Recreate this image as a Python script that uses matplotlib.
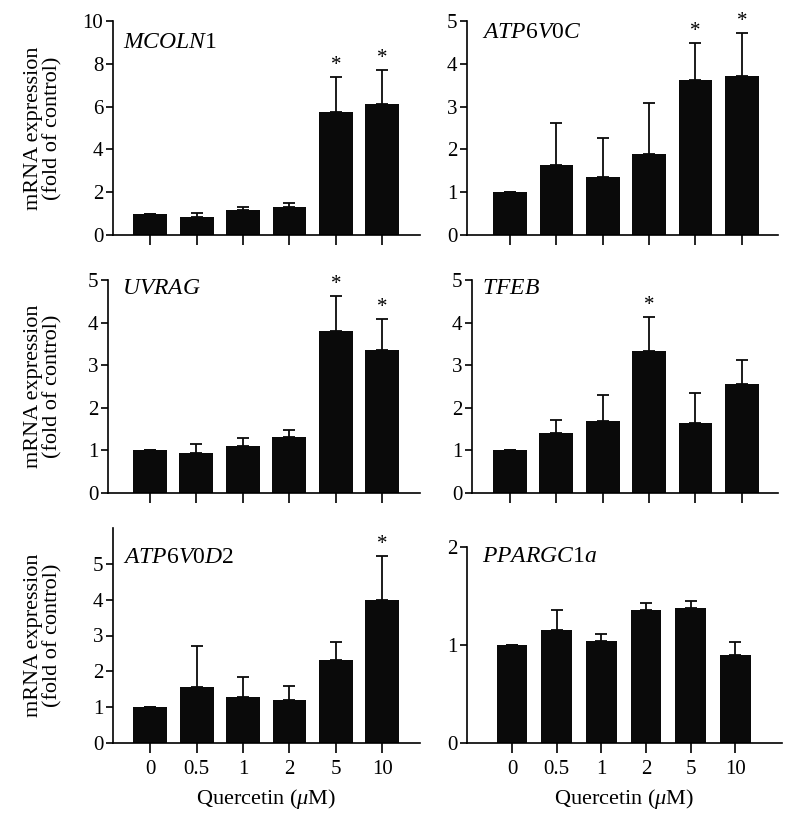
import matplotlib
matplotlib.use("Agg")
import matplotlib.pyplot as plt
import numpy as np

# =============================================================================
# Data
# =============================================================================
doses = ["0", "0.5", "1", "2", "5", "10"]

mcoln1_mean = [1.0, 0.83, 1.17, 1.29, 5.76, 6.10]
mcoln1_err = [0.0, 0.18, 0.15, 0.22, 1.61, 1.61]
mcoln1_sig = [False, False, False, False, True, True]

atp6v0c_mean = [1.0, 1.63, 1.35, 1.89, 3.62, 3.71]
atp6v0c_err = [0.0, 0.99, 0.92, 1.19, 0.86, 1.00]
atp6v0c_sig = [False, False, False, False, True, True]

uvrag_mean = [1.0, 0.93, 1.10, 1.32, 3.81, 3.36]
uvrag_err = [0.0, 0.22, 0.19, 0.16, 0.81, 0.73]
uvrag_sig = [False, False, False, False, True, True]

tfeb_mean = [1.0, 1.41, 1.70, 3.34, 1.64, 2.55]
tfeb_err = [0.0, 0.30, 0.61, 0.79, 0.70, 0.57]
tfeb_sig = [False, False, False, True, False, False]

atp6v0d2_mean = [1.0, 1.55, 1.27, 1.19, 2.31, 3.99]
atp6v0d2_err = [0.0, 1.16, 0.57, 0.41, 0.51, 1.23]
atp6v0d2_sig = [False, False, False, False, False, True]

ppargc1a_mean = [1.0, 1.15, 1.04, 1.36, 1.38, 0.90]
ppargc1a_err = [0.0, 0.21, 0.07, 0.07, 0.07, 0.13]
ppargc1a_sig = [False, False, False, False, False, False]

# =============================================================================
# Style
# =============================================================================
plt.rcParams['font.family'] = ['Liberation Serif', 'DejaVu Serif']
plt.rcParams['mathtext.fontset'] = 'custom'
plt.rcParams['mathtext.rm'] = 'Liberation Serif'
plt.rcParams['mathtext.it'] = 'Liberation Serif:italic'
plt.rcParams['mathtext.bf'] = 'Liberation Serif:bold'

W, H = 796, 825
fig = plt.figure(figsize=(W / 100, H / 100), dpi=100)


def rect(x0, x1, y0, y1):
    # pixel box -> figure fraction
    return [x0 / W, 1 - y1 / H, (x1 - x0) / W, (y1 - y0) / H]


def panel(box, xlim, ylim, yticks, mean, err, sig, name, name_pos,
          width=0.73, left=False, bottom=False, star_pad=0.0):
    ax = fig.add_axes(box)
    x = np.arange(len(mean))
    ax.bar(x, mean, width=width, color='#0a0a0a', zorder=2)
    ax.errorbar(x, mean, yerr=[np.zeros(len(err)), err], fmt='none',
                ecolor='#0a0a0a', elinewidth=1.3, capsize=4.5,
                capthick=1.3, zorder=1)
    for i in range(len(mean)):
        if sig[i]:
            ax.text(x[i], mean[i] + err[i] + star_pad, "*", ha='center',
                    va='bottom', fontsize=15)
    ax.set_xlim(xlim)
    ax.set_ylim(ylim)
    ax.set_yticks(yticks)
    ax.set_xticks(x)
    if bottom:
        ax.set_xticklabels(doses)
        ax.set_xlabel(r"Quercetin ($\mu$M)", fontsize=16, labelpad=6)
    else:
        ax.set_xticklabels([])
    if left:
        ax.set_ylabel("mRNA expression\n(fold of control)", fontsize=16,
                      linespacing=0.95)
    ax.spines['top'].set_visible(False)
    ax.spines['right'].set_visible(False)
    for s in ['left', 'bottom']:
        ax.spines[s].set_linewidth(1.2)
    ax.tick_params(axis='y', length=5, width=1.2, labelsize=15, pad=2)
    ax.tick_params(axis='x', length=7, width=1.2, labelsize=15, pad=5)
    # gene name: x offset in pixels from the y axis, y in data units
    ax.annotate(name, xy=(0, name_pos[1]), xycoords=('axes fraction', 'data'),
                xytext=(name_pos[0], 0), textcoords='offset pixels',
                fontsize=17, va='center', ha='left')
    return ax


# =============================================================================
# Panels
# =============================================================================
a1 = panel(rect(113, 420, 21, 235), (-0.80, 5.81), (0, 10), [0, 2, 4, 6, 8, 10],
           mcoln1_mean, mcoln1_err, mcoln1_sig, r"$MCOLN1$", (10, 9.0),
           left=True, star_pad=0.1)
a2 = panel(rect(467, 778, 21, 235), (-0.93, 5.78), (0, 5), [0, 1, 2, 3, 4, 5],
           atp6v0c_mean, atp6v0c_err, atp6v0c_sig, r"$ATP6V0C$", (15, 4.74),
           star_pad=0.05)
a3 = panel(rect(108, 420, 280, 493), (-0.90, 5.81), (0, 5), [0, 1, 2, 3, 4, 5],
           uvrag_mean, uvrag_err, uvrag_sig, r"$UVRAG$", (14, 4.81),
           left=True, star_pad=0.05)
a4 = panel(rect(472, 778, 280, 493), (-0.82, 5.78), (0, 5), [0, 1, 2, 3, 4, 5],
           tfeb_mean, tfeb_err, tfeb_sig, r"$TFEB$", (10, 4.81), star_pad=0.05)
a5 = panel(rect(113, 420, 528, 743), (-0.80, 5.81), (0, 6), [0, 1, 2, 3, 4, 5],
           atp6v0d2_mean, atp6v0d2_err, atp6v0d2_sig, r"$ATP6V0D2$", (10, 5.17),
           left=True, bottom=True, star_pad=0.05)
a6 = panel(rect(467, 782, 547, 743), (-1.01, 6.05), (0, 2), [0, 1, 2],
           ppargc1a_mean, ppargc1a_err, ppargc1a_sig, r"$PPARGC1a$", (15, 1.90),
           width=0.69, bottom=True)

# y labels: right edge ~62 px from the figure's left side
a1.yaxis.set_label_coords((62 - 113) / 307, 0.5)
a3.yaxis.set_label_coords((62 - 108) / 312, 0.5)
a5.yaxis.set_label_coords((62 - 113) / 307, 0.5)

fig.savefig("out.png", dpi=100)
